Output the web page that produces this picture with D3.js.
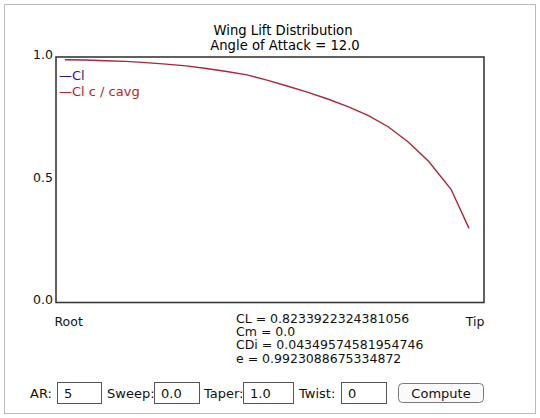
<!DOCTYPE html>
<html>
<head>
<meta charset="utf-8">
<script src="https://cdn.jsdelivr.net/npm/d3@7"></script>
<style>
  body { margin: 0; background: #fff; }
  svg { display: block; font-family: "DejaVu Sans", sans-serif; }
</style>
</head>
<body>
<svg id="chart" width="540" height="418"></svg>
<script>
// span stations (0 = root, 1 = tip) and Cl c / cavg
const span = [0.021, 0.068, 0.115, 0.163, 0.210, 0.257, 0.304, 0.351, 0.399, 0.446,
              0.493, 0.540, 0.587, 0.635, 0.682, 0.729, 0.776, 0.823, 0.871, 0.923, 0.965];
const clcc = [0.989, 0.988, 0.985, 0.982, 0.977, 0.971, 0.964, 0.953, 0.941, 0.927,
              0.906, 0.882, 0.857, 0.829, 0.798, 0.762, 0.716, 0.654, 0.574, 0.461, 0.302];
const yTicks = [0, 0.5, 1.0];
const xLabels = ["Root", "Tip"];
const legend = [{name: "Cl", color: "#1c1ca8"}, {name: "Cl c / cavg", color: "#b8232c"}];
const results = ["CL = 0.8233922324381056", "Cm = 0.0", "CDi = 0.04349574581954746", "e = 0.9923088675334872"];
const controls = [{label: "AR:", value: "5"}, {label: "Sweep:", value: "0.0"},
                  {label: "Taper:", value: "1.0"}, {label: "Twist:", value: "0"}];

const margin = {top: 57, right: 56, bottom: 115.5, left: 56};
const width = 540, height = 418;

const svg = d3.select("#chart");

// dotted applet frame
svg.append("rect")
  .attr("x", 4.5).attr("y", 4.5)
  .attr("width", 531).attr("height", 409)
  .attr("fill", "none")
  .attr("stroke", "#777")
  .attr("stroke-dasharray", "1,1");

const x = d3.scaleLinear().domain([0, 1]).range([margin.left, width - margin.right]);
const y = d3.scaleLinear().domain([0, 1]).range([height - margin.bottom, margin.top]);

// title
svg.append("text")
  .attr("x", 283).attr("y", 35)
  .attr("text-anchor", "middle")
  .attr("font-size", "13.2px")
  .text("Wing Lift Distribution");
svg.append("text")
  .attr("x", 285).attr("y", 50)
  .attr("text-anchor", "middle")
  .attr("font-size", "13.2px")
  .text("Angle of Attack = 12.0");

// plot box
svg.append("rect")
  .attr("x", x(0)).attr("y", y(1))
  .attr("width", x(1) - x(0)).attr("height", y(0) - y(1))
  .attr("fill", "none")
  .attr("stroke", "#3a3a3a")
  .attr("stroke-width", 1.6);

const yAxis = d3.axisLeft(y)
  .tickValues(yTicks)
  .tickSize(0)
  .tickPadding(3)
  .tickFormat(d3.format(".1f"));

svg.append("g")
  .attr("transform", `translate(${margin.left},0)`)
  .call(yAxis)
  .call(g => g.select(".domain").remove())
  .selectAll("text")
    .attr("font-family", "DejaVu Sans, sans-serif")
    .attr("font-size", "12.5px")
    .attr("fill", "#111")
    .attr("dy", "0.1em");

const xAxis = d3.axisBottom(x)
  .tickValues([0, 1])
  .tickSize(0)
  .tickPadding(15)
  .tickFormat((d, i) => xLabels[i]);

svg.append("g")
  .attr("transform", `translate(0,${height - margin.bottom})`)
  .call(xAxis)
  .call(g => g.select(".domain").remove())
  .selectAll("text")
    .attr("font-family", "DejaVu Sans, sans-serif")
    .attr("font-size", "12.5px")
    .attr("fill", "#111")
    .attr("text-anchor", (d, i) => i == 0 ? "start" : "end")
    .attr("dx", (d, i) => i == 0 ? -2 : 0);

// lift distribution line
const line = d3.line()
  .x((d, i) => x(span[i]))
  .y(d => y(d));

svg.append("path")
  .datum(clcc)
  .attr("fill", "none")
  .attr("stroke", "#ab2638")
  .attr("stroke-width", 1.4)
  .attr("d", line);

// legend
svg.selectAll(".legend")
  .data(legend)
  .join("text")
  .attr("class", "legend")
  .attr("x", 59)
  .attr("y", (d, i) => 80 + i * 16)
  .attr("font-size", "13px")
  .attr("fill", d => d.color)
  .text(d => "\u2014" + d.name);

// results
svg.selectAll(".result")
  .data(results)
  .join("text")
  .attr("class", "result")
  .attr("x", 236)
  .attr("y", (d, i) => 323 + i * 13.2)
  .attr("font-size", "12.5px")
  .attr("fill", "#111")
  .text(d => d);

// input row
const labelX = [30, 107, 204, 299];
const boxX = [57, 154, 243, 341];
const boxW = [44, 45, 50, 45];

const ctl = svg.selectAll(".ctl")
  .data(controls)
  .join("g")
  .attr("class", "ctl");

ctl.append("text")
  .attr("x", (d, i) => labelX[i])
  .attr("y", 398)
  .attr("font-size", "13px")
  .attr("fill", "#111")
  .text(d => d.label);

ctl.append("rect")
  .attr("x", (d, i) => boxX[i] + 0.5)
  .attr("y", 382.5)
  .attr("width", (d, i) => boxW[i])
  .attr("height", 21)
  .attr("fill", "#fff")
  .attr("stroke", "#555");

ctl.append("text")
  .attr("x", (d, i) => boxX[i] + 7)
  .attr("y", 398)
  .attr("font-size", "13px")
  .attr("fill", "#111")
  .text(d => d.value);

svg.append("rect")
  .attr("x", 398.5).attr("y", 383.5)
  .attr("width", 85).attr("height", 19)
  .attr("rx", 4)
  .attr("fill", "#fafafa")
  .attr("stroke", "#777");

svg.append("text")
  .attr("x", 441).attr("y", 397.5)
  .attr("text-anchor", "middle")
  .attr("font-size", "13px")
  .attr("fill", "#111")
  .text("Compute");
</script>
</body>
</html>
